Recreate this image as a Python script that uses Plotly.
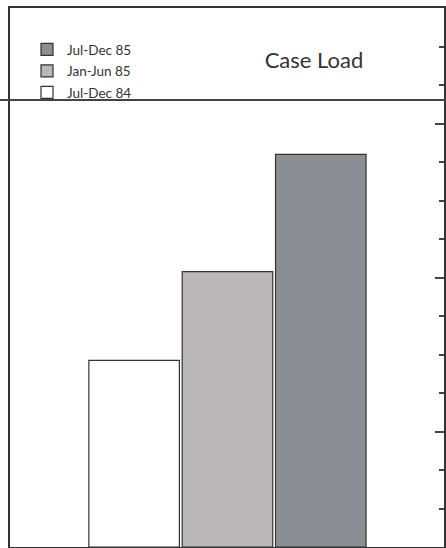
import plotly.graph_objects as go

periods = ["Jul-Dec 84", "Jan-Jun 85", "Jul-Dec 85"]
case_load = [4.85, 7.15, 10.2]
colors = ["#ffffff", "#b9b7b7", "#8b8f94"]
title_text = "Case Load"

W, H = 446, 548
ml, mr, mt, mb = 10, 2, 8, 1
pw = W - ml - mr
ph = H - mt - mb

fig = go.Figure()
# add newest first so the legend lists Jul-Dec 85 at the top
for i in reversed(range(len(periods))):
    p, v, c = periods[i], case_load[i], colors[i]
    fig.add_trace(go.Bar(
        x=[i], y=[v], name=p, width=0.97, legendgroup=p,
        marker=dict(color=c, line=dict(color="#333333", width=1.2)),
    ))

fig.update_layout(
    width=W, height=H,
    margin=dict(l=ml, r=mr, t=mt, b=mb, pad=0),
    paper_bgcolor="white", plot_bgcolor="white",
    barmode="overlay",
    showlegend=True,
    legend=dict(
        x=(27 - ml) / pw, y=1 - (34 - mt) / ph, xanchor="left", yanchor="top",
        traceorder="grouped", tracegroupgap=1, bgcolor="rgba(0,0,0,0)",
        font=dict(family="Lato, DejaVu Sans, sans-serif", size=13.5, color="#333333"),
        itemwidth=30,
    ),
    title=dict(
        text=title_text, x=314 / W, xanchor="center", y=1 - 60 / H, yanchor="middle",
        font=dict(family="Lato, DejaVu Sans, sans-serif", size=22, color="#333333"),
    ),
    xaxis=dict(
        range=[-1.33, 3.32], showticklabels=False, showgrid=False, zeroline=False,
        showline=True, linecolor="#333333", linewidth=2, mirror=True, ticks="",
    ),
    yaxis=dict(
        range=[0, 14], side="right", showticklabels=False, showgrid=False, zeroline=False,
        showline=True, linecolor="#333333", linewidth=2, mirror=True,
        ticks="inside", tick0=3, dtick=4, ticklen=9, tickwidth=1.5, tickcolor="#444444",
        minor=dict(ticks="inside", dtick=1, tick0=0, ticklen=5, tickwidth=1.5, tickcolor="#444444"),
    ),
)

fig.add_shape(
    type="line", xref="paper", yref="paper",
    x0=-ml / pw, x1=1 + mr / pw, y0=1 - (100 - mt) / ph, y1=1 - (100 - mt) / ph,
    line=dict(color="#444444", width=2),
)

fig.write_html(
    "out.html",
    config={"displayModeBar": False},
    post_script="document.body.style.margin='0';document.body.style.overflow='hidden';",
)
